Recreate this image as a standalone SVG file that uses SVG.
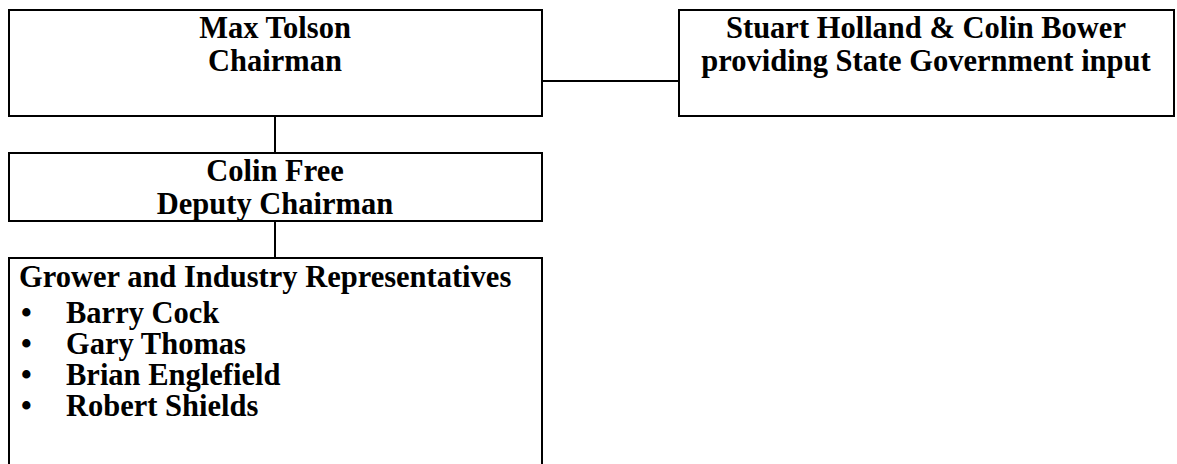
<svg xmlns="http://www.w3.org/2000/svg" width="1177" height="464" viewBox="0 0 1177 464">
<style>
.box{fill:#fff;stroke:#000;stroke-width:2}
.t{font-family:"Liberation Serif","Times New Roman",serif;font-weight:bold;font-size:30.5px;fill:#000}
.c{text-anchor:middle}
.ln{stroke:#000;stroke-width:2;fill:none}
</style>
<rect width="1177" height="464" fill="#fff"/>
<g id="connectors">
<line class="ln" x1="542" y1="81" x2="679" y2="81"/>
<line class="ln" x1="275" y1="116" x2="275" y2="153"/>
<line class="ln" x1="275" y1="221" x2="275" y2="258"/>
</g>
<g id="chairman">
<rect class="box" x="9" y="10" width="533" height="106"/>
<text class="t c" x="275" y="38">Max Tolson</text>
<text class="t c" x="275" y="71">Chairman</text>
</g>
<g id="state">
<rect class="box" x="679" y="10" width="495" height="106"/>
<text class="t c" x="926" y="37.5">Stuart Holland &amp; Colin Bower</text>
<text class="t c" x="926" y="71">providing State Government input</text>
</g>
<g id="deputy">
<rect class="box" x="9" y="153" width="533" height="68"/>
<text class="t c" x="275" y="181">Colin Free</text>
<text class="t c" x="275" y="213.5">Deputy Chairman</text>
</g>
<g id="representatives">
<rect class="box" x="9" y="258" width="533" height="220"/>
<text class="t" x="19" y="287">Grower and Industry Representatives</text>
<text class="t" x="21" y="323">•</text><text class="t" x="66" y="323">Barry Cock</text>
<text class="t" x="21" y="354">•</text><text class="t" x="66" y="354">Gary Thomas</text>
<text class="t" x="21" y="385">•</text><text class="t" x="66" y="385">Brian Englefield</text>
<text class="t" x="21" y="416">•</text><text class="t" x="66" y="416">Robert Shields</text>
</g>
</svg>
